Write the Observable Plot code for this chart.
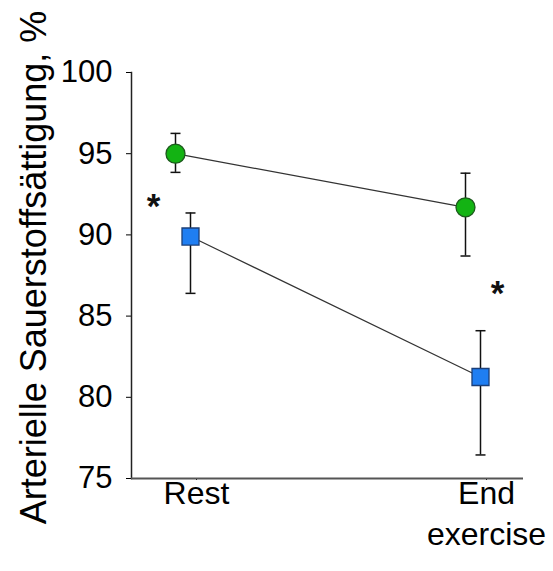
<!DOCTYPE html>
<html>
<head>
<meta charset="utf-8">
<script src="https://cdn.jsdelivr.net/npm/d3@7"></script>
<script src="https://cdn.jsdelivr.net/npm/@observablehq/plot@0.6"></script>
<style>
  html, body { margin: 0; padding: 0; background: #fff; }
  svg { display: block; }
</style>
</head>
<body>
<div id="chart"></div>
<script>
// Categories
const phases = ["Rest", "End exercise"];
// Green series (circles)
const greenMean = [95.0, 91.7];
const greenLo = [93.85, 88.7];
const greenHi = [96.25, 93.8];
// Blue series (squares)
const blueMean = [89.9, 81.25];
const blueLo = [86.4, 76.45];
const blueHi = [91.35, 84.1];
// Significance markers
const starPhases = ["Rest", "End exercise"];
const starY = [91.7, 86.35];
// Y ticks and title
const yTicks = [75, 80, 85, 90, 95, 100];
const yTitle = "Arterielle Sauerstoffsättigung, %";

const green = phases.map((p, i) => ({phase: p, mean: greenMean[i], lo: greenLo[i], hi: greenHi[i]}));
const blue = phases.map((p, i) => ({phase: p, mean: blueMean[i], lo: blueLo[i], hi: blueHi[i]}));
const stars = starPhases.map((p, i) => ({phase: p, y: starY[i]}));

const cap = {draw(ctx) { ctx.moveTo(-5, 0); ctx.lineTo(5, 0); }};
const font = "'Liberation Sans', Arial, Helvetica, sans-serif";
const gdx = -15;

function series(data, dx, symbol, fill, stroke, r) {
  return [
    Plot.ruleX(data, {x: "phase", y1: "lo", y2: "hi", dx, stroke: "#111", strokeWidth: 1.5}),
    Plot.dot(data, {x: "phase", y: "hi", dx, symbol: cap, stroke: "#111", strokeWidth: 1.5, fill: "none"}),
    Plot.dot(data, {x: "phase", y: "lo", dx, symbol: cap, stroke: "#111", strokeWidth: 1.5, fill: "none"}),
    Plot.line(data, {x: "phase", y: "mean", dx, stroke: "#333", strokeWidth: 1.2}),
    Plot.dot(data, {x: "phase", y: "mean", dx, symbol, r, fill, stroke, strokeWidth: 1.3})
  ];
}

const chart = Plot.plot({
  width: 553,
  height: 571,
  marginLeft: 131,
  marginRight: 30,
  marginTop: 72,
  marginBottom: 93,
  style: {fontFamily: font, background: "#fff", color: "#000"},
  x: {type: "point", domain: phases, range: [190, 480], padding: 0},
  y: {domain: [75, 100], ticks: yTicks},
  marks: [
    Plot.axisY({ticks: yTicks, tickSize: 5, tickPadding: 14, fontSize: 31, label: null}),
    Plot.axisX({tickSize: 2, tickPadding: -5, fontSize: 32, lineHeight: 1.27, dx: 6,
      tickFormat: d => d === "End exercise" ? "End\nexercise" : d, label: null}),
    Plot.text([yTitle], {text: d => d, frameAnchor: "left", textAnchor: "middle", rotate: -90, dx: -97, dy: -8,
      fontSize: 36, lineAnchor: "middle", fill: "#000"}),
    Plot.frame({anchor: "left", stroke: "#222", strokeWidth: 1.5}),
    Plot.ruleY([75], {stroke: "#555", strokeWidth: 2}),
    ...series(blue, 0, "square", "#1f7ef2", "#1b3f78", 9.6),
    ...series(green, gdx, "circle", "#13b313", "#1d5a1d", 9.5),
    Plot.text(stars.slice(0, 1), {x: "phase", y: "y", text: () => "*", dx: -37, fontSize: 35, fontWeight: "bold", fill: "#111"}),
    Plot.text(stars.slice(1), {x: "phase", y: "y", text: () => "*", dx: 17, fontSize: 35, fontWeight: "bold", fill: "#111"})
  ]
});
chart.style.fontFamily = font;
document.getElementById("chart").appendChild(chart);
</script>
</body>
</html>
